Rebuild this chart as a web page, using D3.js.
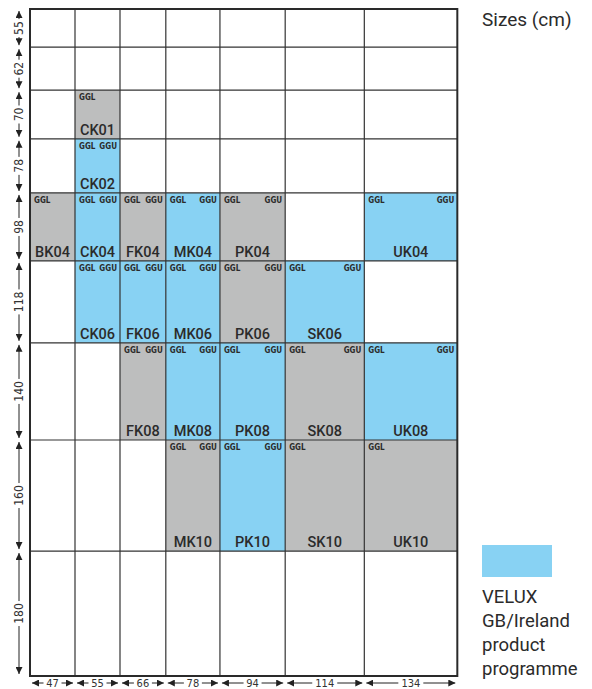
<!DOCTYPE html>
<html>
<head>
<meta charset="utf-8">
<script src="https://cdn.jsdelivr.net/npm/d3@7"></script>
<style>
  body { margin: 0; background: #fff; }
  svg { display: block; }
</style>
</head>
<body>
<div id="chart"></div>
<script>
// window widths and heights (cm)
const colSizes = [47, 55, 66, 78, 94, 114, 134];
const rowSizes = [55, 62, 70, 78, 98, 118, 140, 160, 180];

// products: code, width (cm), height (cm), in GB/Ireland programme, variants
const codes    = ["CK01","CK02","BK04","CK04","FK04","MK04","PK04","UK04",
                  "CK06","FK06","MK06","PK06","SK06",
                  "FK08","MK08","PK08","SK08","UK08",
                  "MK10","PK10","SK10","UK10"];
const prodW    = [55, 55, 47, 55, 66, 78, 94, 134,
                  55, 66, 78, 94, 114,
                  66, 78, 94, 114, 134,
                  78, 94, 114, 134];
const prodH    = [70, 78, 98, 98, 98, 98, 98, 98,
                  118, 118, 118, 118, 118,
                  140, 140, 140, 140, 140,
                  160, 160, 160, 160];
const inGB     = [false, true, false, true, false, true, false, true,
                  true, true, true, false, true,
                  false, true, true, false, true,
                  false, true, false, false];
const variants = [["GGL"], ["GGL","GGU"], ["GGL"], ["GGL","GGU"], ["GGL","GGU"], ["GGL","GGU"], ["GGL","GGU"], ["GGL","GGU"],
                  ["GGL","GGU"], ["GGL","GGU"], ["GGL","GGU"], ["GGL","GGU"], ["GGL","GGU"],
                  ["GGL","GGU"], ["GGL","GGU"], ["GGL","GGU"], ["GGL","GGU"], ["GGL","GGU"],
                  ["GGL","GGU"], ["GGL","GGU"], ["GGL"], ["GGL"]];

const legendLines = ["VELUX", "GB/Ireland", "product", "programme"];

const W = 592, H = 689;
const blue = "#88d2f3", grey = "#bdbebe", ink = "#2b2b2b";
const left0 = 30, top0 = 9, minColPx = 45; // narrow columns are widened so labels fit

const svg = d3.select("#chart").append("svg")
  .attr("width", W).attr("height", H);

// one cm -> px scale for both directions
const cm = d3.scaleLinear().domain([0, d3.sum(rowSizes)]).range([0, 667]);

const colEdges = [left0];
colSizes.forEach(s => colEdges.push(colEdges[colEdges.length - 1] + Math.max(minColPx, cm(s))));
const rowEdges = [top0];
rowSizes.forEach(s => rowEdges.push(rowEdges[rowEdges.length - 1] + cm(s)));
const gx0 = colEdges[0], gx1 = colEdges[colEdges.length - 1];
const gy0 = rowEdges[0], gy1 = rowEdges[rowEdges.length - 1];

const colOf = w => colSizes.indexOf(w);
const rowOf = h => rowSizes.indexOf(h);

const products = codes.map((code, i) => {
  const c = colOf(prodW[i]), r = rowOf(prodH[i]);
  return {
    code,
    x0: colEdges[c], x1: colEdges[c + 1],
    y0: rowEdges[r], y1: rowEdges[r + 1],
    gb: inGB[i], vars: variants[i]
  };
});

// filled cells
svg.append("g").selectAll("rect")
  .data(products)
  .join("rect")
    .attr("x", d => d.x0).attr("y", d => d.y0)
    .attr("width", d => d.x1 - d.x0).attr("height", d => d.y1 - d.y0)
    .attr("fill", d => d.gb ? blue : grey);

// grid
const grid = svg.append("g").attr("stroke", "#333").attr("stroke-width", 1.2);
grid.selectAll("line.v")
  .data(colEdges.slice(1, -1))
  .join("line")
    .attr("class", "v")
    .attr("x1", d => d).attr("x2", d => d)
    .attr("y1", gy0).attr("y2", gy1);
grid.selectAll("line.h")
  .data(rowEdges.slice(1, -1))
  .join("line")
    .attr("class", "h")
    .attr("x1", gx0).attr("x2", gx1)
    .attr("y1", d => d).attr("y2", d => d);
svg.append("rect")
  .attr("x", gx0).attr("y", gy0)
  .attr("width", gx1 - gx0).attr("height", gy1 - gy0)
  .attr("fill", "none").attr("stroke", "#2a2a2a").attr("stroke-width", 2);

// cell labels
const labels = svg.append("g")
  .attr("font-family", "Roboto, 'DejaVu Sans Condensed', sans-serif")
  .attr("fill", ink);

labels.selectAll("text.code")
  .data(products)
  .join("text")
    .attr("class", "code")
    .attr("x", d => (d.x0 + d.x1) / 2)
    .attr("y", d => d.y1 - 4)
    .attr("text-anchor", "middle")
    .attr("font-size", 14.5)
    .attr("font-weight", 500)
    .text(d => d.code);

const small = labels.append("g")
  .attr("font-family", "'DejaVu Sans Condensed', sans-serif")
  .attr("font-size", 8)
  .attr("font-weight", "bold");

small.selectAll("text.ggl")
  .data(products)
  .join("text")
    .attr("class", "ggl")
    .attr("x", d => d.x0 + 4)
    .attr("y", d => d.y0 + 10)
    .text(d => d.vars[0]);

small.selectAll("text.ggu")
  .data(products.filter(d => d.vars.length > 1))
  .join("text")
    .attr("class", "ggu")
    .attr("x", d => d.x1 - 3)
    .attr("y", d => d.y0 + 10)
    .attr("text-anchor", "end")
    .text(d => d.vars[1]);

// dimension arrows
svg.append("defs").append("marker")
  .attr("id", "arr").attr("viewBox", "0 0 10 10")
  .attr("refX", 10).attr("refY", 5)
  .attr("markerWidth", 7).attr("markerHeight", 7)
  .attr("markerUnits", "userSpaceOnUse")
  .attr("orient", "auto-start-reverse")
  .append("path").attr("d", "M0,0L10,5L0,10Z").attr("fill", "#222");

const dimFont = "'Liberation Sans Narrow', 'DejaVu Sans Condensed', sans-serif";

function dimLabels(g, data, transform, size) {
  const lab = g.selectAll("g.lab")
    .data(data)
    .join("g")
      .attr("class", "lab")
      .attr("transform", transform);
  lab.append("rect")
    .attr("x", d => -String(d.s).length * 3.5 - 2).attr("y", -5)
    .attr("width", d => String(d.s).length * 7 + 4).attr("height", 10)
    .attr("fill", "#fff");
  lab.append("text")
    .attr("text-anchor", "middle").attr("dy", "0.35em")
    .attr("font-family", dimFont).attr("font-size", size).attr("fill", "#333")
    .text(d => d.s);
}

// left (heights)
const ax = 19;
const rows = rowSizes.map((s, i) => ({ s, y0: rowEdges[i], y1: rowEdges[i + 1] }));
const leftG = svg.append("g");
leftG.selectAll("line")
  .data(rows)
  .join("line")
    .attr("x1", ax).attr("x2", ax)
    .attr("y1", d => d.y0 + 2).attr("y2", d => d.y1 - 2)
    .attr("stroke", "#222").attr("stroke-width", 1)
    .attr("marker-start", "url(#arr)").attr("marker-end", "url(#arr)");
dimLabels(leftG, rows, d => `translate(${ax},${(d.y0 + d.y1) / 2}) rotate(-90)`, 12);

// bottom (widths)
const by = 683;
const cols = colSizes.map((s, i) => ({ s, x0: colEdges[i], x1: colEdges[i + 1] }));
const bottomG = svg.append("g");
bottomG.selectAll("line")
  .data(cols)
  .join("line")
    .attr("x1", d => d.x0 + 2).attr("x2", d => d.x1 - 2)
    .attr("y1", by).attr("y2", by)
    .attr("stroke", "#222").attr("stroke-width", 1)
    .attr("marker-start", "url(#arr)").attr("marker-end", "url(#arr)");
dimLabels(bottomG, cols, d => `translate(${(d.x0 + d.x1) / 2},${by})`, 11);

// title + legend
const sideFont = "Roboto, 'Liberation Sans', sans-serif";
svg.append("text")
  .attr("x", 482).attr("y", 26)
  .attr("font-family", sideFont).attr("font-size", 19).attr("fill", ink)
  .text("Sizes (cm)");

svg.append("rect")
  .attr("x", 482).attr("y", 545).attr("width", 70).attr("height", 32)
  .attr("fill", blue);

svg.append("g").selectAll("text")
  .data(legendLines)
  .join("text")
    .attr("x", 482).attr("y", (d, i) => 603 + i * 24)
    .attr("font-family", sideFont).attr("font-size", 18.5).attr("fill", ink)
    .text(d => d);
</script>
</body>
</html>
